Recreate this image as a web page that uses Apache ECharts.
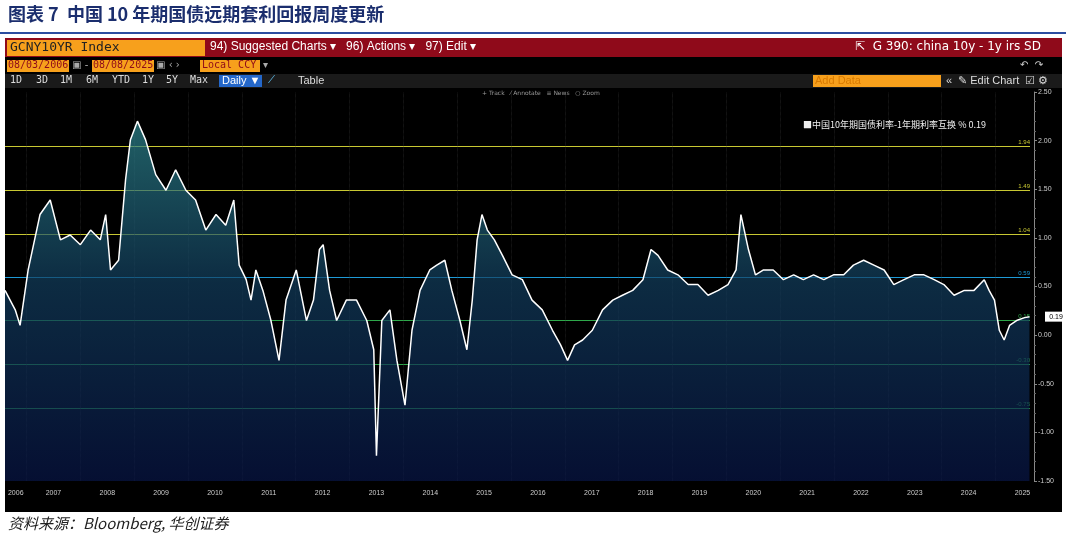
<!DOCTYPE html>
<html><head><meta charset="utf-8">
<script src="https://cdn.jsdelivr.net/npm/echarts@6/dist/echarts.min.js"></script>
<style>html,body{margin:0;padding:0;background:#fff}
#wrap{position:relative;width:1066px;height:542px}
.r{position:absolute}
#c{position:absolute;left:0;top:0;width:1066px;height:542px}</style>
</head><body><div id="wrap">
<div class="r" style="left:0;top:32px;width:1066px;height:2px;background:#2b4da0"></div>
<div class="r" style="left:5px;top:38px;width:1057px;height:474px;background:#000"></div>
<div class="r" style="left:5px;top:38px;width:1057px;height:19px;background:#8f0a1a"></div>
<div class="r" style="left:7px;top:40px;width:198px;height:16px;background:#f7a01c"></div>
<div class="r" style="left:7px;top:60px;width:62px;height:12px;background:#f7a01c"></div>
<div class="r" style="left:92px;top:60px;width:62px;height:12px;background:#f7a01c"></div>
<div class="r" style="left:200px;top:60px;width:60px;height:12px;background:#f7a01c"></div>
<div class="r" style="left:5px;top:74px;width:1057px;height:14px;background:#1a1a1a"></div>
<div class="r" style="left:219px;top:75px;width:43px;height:12px;background:#2467c9"></div>
<div class="r" style="left:813px;top:75px;width:128px;height:12px;background:#f7a01c"></div>
<div class="r" style="left:797px;top:116px;width:218px;height:18px;background:#1e1e1e"></div>
<div id="c"></div></div>
<script>
const years=[2006.60,2006.79,2006.88,2007.03,2007.25,2007.44,2007.63,2007.81,2008.00,2008.19,2008.37,2008.47,2008.56,2008.71,2008.84,2008.93,2009.06,2009.21,2009.40,2009.59,2009.77,2009.96,2010.14,2010.33,2010.52,2010.70,2010.85,2010.95,2011.08,2011.17,2011.26,2011.39,2011.54,2011.69,2011.82,2012.01,2012.20,2012.33,2012.44,2012.51,2012.63,2012.76,2012.94,2013.13,2013.32,2013.45,2013.50,2013.60,2013.75,2013.88,2014.03,2014.16,2014.31,2014.49,2014.62,2014.77,2014.90,2015.05,2015.18,2015.28,2015.37,2015.46,2015.56,2015.69,2015.84,2016.02,2016.21,2016.39,2016.58,2016.77,2016.92,2017.05,2017.18,2017.33,2017.51,2017.70,2017.89,2018.07,2018.26,2018.45,2018.60,2018.73,2018.91,2019.10,2019.29,2019.47,2019.66,2019.85,2020.03,2020.18,2020.27,2020.41,2020.54,2020.69,2020.87,2021.06,2021.25,2021.43,2021.62,2021.81,2021.99,2022.18,2022.36,2022.55,2022.74,2022.93,2023.11,2023.30,2023.49,2023.67,2023.86,2024.04,2024.23,2024.42,2024.60,2024.79,2024.88,2024.98,2025.07,2025.16,2025.26,2025.39,2025.54,2025.63];
const spread=[.46,.26,.10,.67,1.24,1.39,.98,1.03,.93,1.08,.98,1.24,.67,.77,1.60,2.01,2.20,2.01,1.65,1.49,1.70,1.49,1.39,1.08,1.24,1.13,1.39,.72,.57,.36,.67,.46,.15,-.26,.36,.67,.15,.36,.88,.93,.46,.15,.36,.36,.15,-.15,-1.24,.15,.26,-.26,-.72,.05,.46,.67,.72,.77,.46,.15,-.15,.36,.98,1.24,1.08,.98,.82,.62,.57,.36,.26,.05,-.10,-.26,-.10,-.05,.05,.26,.36,.41,.46,.57,.88,.82,.67,.62,.52,.52,.41,.46,.52,.67,1.24,.88,.62,.67,.67,.57,.62,.57,.62,.57,.62,.62,.72,.77,.72,.67,.52,.57,.62,.62,.57,.52,.41,.46,.46,.57,.46,.36,.05,-.05,.10,.15,.18,.19];
const yearLabels=[2006,2007,2008,2009,2010,2011,2012,2013,2014,2015,2016,2017,2018,2019,2020,2021,2022,2023,2024,2025];
const labelPos=[2006.8,2007.5,2008.5,2009.5,2010.5,2011.5,2012.5,2013.5,2014.5,2015.5,2016.5,2017.5,2018.5,2019.5,2020.5,2021.5,2022.5,2023.5,2024.5,2025.5];
const bands=[1.94,1.49,1.04,0.59,0.15,-0.30,-0.75];
const bandColors=['#c8c832','#c8c832','#c8c832','#1e9ad6','#2ea84a','#2ea84a','#2ea84a'];
const last=spread[spread.length-1];

const ch=echarts.init(document.getElementById('c'));
const txt=(x,y,t,o)=>({type:'text',left:x,top:y,z:10,style:Object.assign({text:t,fill:'#fff',font:'12px "Liberation Sans", Arial'},o||{})});
const tbs=['1D','3D','1M','6M','YTD','1Y','5Y','Max'];
const tbx=[10,36,60,86,112,142,166,190];
const g=[
 txt(8,5,'图表 7  中国 10 年期国债远期套利回报周度更新',{fill:'#1b2e6e',font:'bold 18px "Noto Sans CJK SC"'}),
 txt(10,41,'GCNY10YR Index',{fill:'#222',font:'13px "DejaVu Sans Mono"'}),
 txt(210,41,'94) Suggested Charts ▾   96) Actions ▾   97) Edit ▾',{font:'12px "Liberation Sans"'}),
 txt(855,41,'⇱  G 390: china 10y - 1y irs SD',{font:'12px "DejaVu Sans"'}),
 txt(8,60,'08/03/2006',{fill:'#8f0a1a',font:'10px "DejaVu Sans Mono"'}),
 txt(72,60,'▣ -',{fill:'#aaa',font:'10px "DejaVu Sans"'}),
 txt(93,60,'08/08/2025',{fill:'#8f0a1a',font:'10px "DejaVu Sans Mono"'}),
 txt(156,60,'▣ ‹ ›',{fill:'#aaa',font:'10px "DejaVu Sans"'}),
 txt(202,60,'Local CCY',{fill:'#8f0a1a',font:'10px "DejaVu Sans Mono"'}),
 txt(263,60,'▾',{fill:'#aaa',font:'10px "DejaVu Sans"'}),
 txt(1020,60,'↶  ↷',{fill:'#ccc',font:'10px "DejaVu Sans"'}),
 txt(222,75,'Daily ▼',{font:'11px "Liberation Sans"'}),
 txt(268,75,'⟋',{fill:'#6cf',font:'10px "DejaVu Sans"'}),
 txt(298,75,'Table',{fill:'#ddd',font:'11px "Liberation Sans"'}),
 txt(815,75,'Add Data',{fill:'#d97a00',font:'11px "Liberation Sans"'}),
 txt(946,75,'«  ✎ Edit Chart  ☑ ⚙',{fill:'#ddd',font:'11px "Liberation Sans"'}),
 txt(482,90,'+ Track   ⁄ Annotate   ≡ News   ○ Zoom',{fill:'#999',font:'6px "DejaVu Sans"'}),
 txt(803,120,'■中国10年期国债利率-1年期利率互换 % 0.19',{fill:'#eee',font:'9px "Noto Sans CJK SC"'}),
 txt(8,516,'资料来源：Bloomberg, 华创证券',{fill:'#222',font:'italic 15px "Noto Sans CJK SC"'})
];
tbs.forEach((t,i)=>g.push(txt(tbx[i],75,t,{fill:'#ddd',font:'10px "DejaVu Sans Mono"'})));

ch.setOption({
 animation:false,backgroundColor:'transparent',
 graphic:g,
 grid:{left:5,right:36,top:92,bottom:61,backgroundColor:'#000',show:true,borderWidth:0},
 xAxis:{type:'value',min:2006.6,max:2025.64,
  axisLine:{show:false},axisTick:{show:false},splitLine:{show:false},
  axisLabel:{customValues:labelPos,formatter:v=>String(Math.floor(v)),color:'#ccc',fontSize:7,margin:9}},
 yAxis:{type:'value',position:'right',min:-1.5,max:2.5,interval:0.5,offset:4,
  axisLine:{show:true,lineStyle:{color:'#888'}},axisTick:{show:true,length:3,lineStyle:{color:'#888'}},
  minorTick:{show:true,splitNumber:5,length:2,lineStyle:{color:'#666'}},
  splitLine:{show:false},axisLabel:{color:'#ccc',fontSize:7,margin:4,formatter:v=>v.toFixed(2)}},
 series:[{type:'line',data:years.map((y,i)=>[y,spread[i]]),symbol:'none',
  lineStyle:{color:'#fff',width:1.5},
  areaStyle:{origin:'start',color:new echarts.graphic.LinearGradient(0,0,0,1,[{offset:0,color:'#2f8a92'},{offset:0.45,color:'#123e5e'},{offset:1,color:'#081648'}])},
  markLine:{symbol:'none',silent:true,z:1,
   data:bands.map((b,i)=>({yAxis:b,lineStyle:{color:bandColors[i],width:1.2,type:'solid'},
    label:{formatter:b.toFixed(2),color:bandColors[i],fontSize:6,position:'insideEndTop',distance:[0,1]}}))
   .concat(yearLabels.slice(1).map(y=>({xAxis:y,lineStyle:{color:'#333',width:0.6,type:'dotted'},label:{show:false}})))
  },
  markPoint:{symbol:'rect',symbolSize:[22,10],itemStyle:{color:'#fff'},
   data:[{coord:[2025.64,last],symbolOffset:[26,0],label:{formatter:last.toFixed(2),color:'#000',fontSize:7}}]}
 }]
});
</script></body></html>
